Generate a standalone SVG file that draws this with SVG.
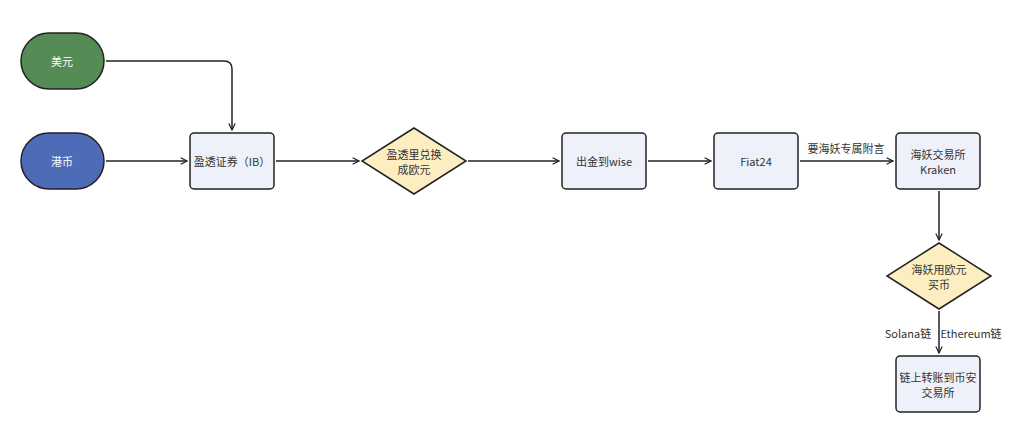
<svg xmlns="http://www.w3.org/2000/svg" width="1024" height="437" viewBox="0 0 1024 437">
<style>
text{font-family:"Noto Sans CJK SC","Noto Sans",sans-serif;font-size:11px;fill:#333;text-anchor:middle;dominant-baseline:central}
.box{fill:#eef0fa;stroke:#222;stroke-width:1.5}
.dia{fill:#fdeec2;stroke:#222;stroke-width:1.5}
.w{fill:#fff}
.e{fill:none;stroke:#222;stroke-width:1.5;marker-end:url(#a)}
</style>
<defs><marker id="a" viewBox="0 0 10 10" refX="9" refY="5" markerWidth="8" markerHeight="8" orient="auto" markerUnits="userSpaceOnUse"><path d="M1,1 L9,5 L1,9" fill="none" stroke="#222" stroke-width="1.5"/></marker></defs>
<rect width="1024" height="437" fill="#fff"/>
<g id="edges">
<path class="e" d="M106,61 H224 Q232,61 232,69 V130"/>
<path class="e" d="M106,161 H187"/>
<path class="e" d="M276,161 H359"/>
<path class="e" d="M468,161 H559"/>
<path class="e" d="M648,161 H711"/>
<path class="e" d="M800,161 H893"/>
<path class="e" d="M939,191 V240"/>
<path class="e" d="M939,311 V353"/>
<text x="846" y="148">要海妖专属附言</text>
<text x="908" y="333">Solana链</text>
<text x="971" y="333">Ethereum链</text>
</g>
<g id="usd"><rect x="21" y="33" width="83" height="56" rx="28" fill="#558b55" stroke="#222" stroke-width="1.5"/><text class="w" x="62" y="61">美元</text></g>
<g id="hkd"><rect x="21" y="133" width="83" height="56" rx="28" fill="#4e6bb8" stroke="#222" stroke-width="1.5"/><text class="w" x="62" y="161">港币</text></g>
<g id="ib"><rect class="box" x="190" y="133" width="84" height="56" rx="4"/><text x="232" y="161">盈透证券（IB）</text></g>
<g id="d1"><polygon class="dia" points="414,128 466,161 414,194 362,161"/><text x="414" y="154">盈透里兑换</text><text x="414" y="169">成欧元</text></g>
<g id="wise"><rect class="box" x="562" y="133" width="84" height="56" rx="4"/><text x="604" y="161">出金到wise</text></g>
<g id="fiat"><rect class="box" x="714" y="133" width="84" height="56" rx="4"/><text x="756" y="161">Fiat24</text></g>
<g id="kraken"><rect class="box" x="896" y="133" width="84" height="56" rx="4"/><text x="938" y="154">海妖交易所</text><text x="938" y="169">Kraken</text></g>
<g id="d2"><polygon class="dia" points="939,243 991,276 939,309 887,276"/><text x="939" y="269">海妖用欧元</text><text x="939" y="284">买币</text></g>
<g id="binance"><rect class="box" x="896" y="356" width="84" height="56" rx="4"/><text x="938" y="377">链上转账到币安</text><text x="938" y="392">交易所</text></g>
</svg>
